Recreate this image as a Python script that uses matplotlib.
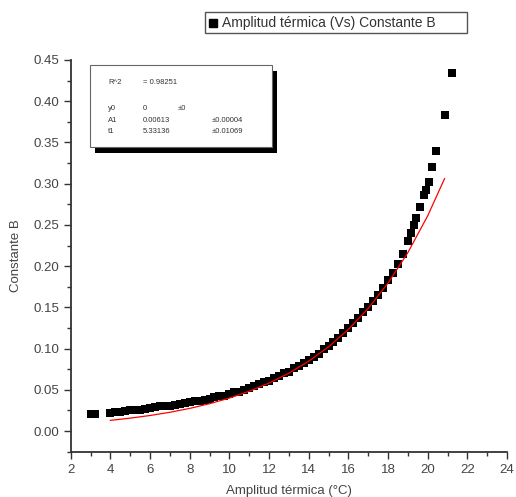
import matplotlib.pyplot as plt
from matplotlib.patches import Rectangle
from matplotlib.lines import Line2D
from matplotlib.ticker import MultipleLocator

plt.rcParams['font.family'] = ['Liberation Sans', 'DejaVu Sans']

# measured points (Amplitud termica vs Constante B)
amp = [3.0, 3.25,
       4.0, 4.25, 4.5, 4.75, 5.0, 5.25, 5.5, 5.75, 6.0, 6.25, 6.5, 6.75,
       7.0, 7.25, 7.5, 7.75, 8.0, 8.25, 8.5, 8.75, 9.0, 9.25, 9.5, 9.75,
       10.0, 10.25, 10.5, 10.75, 11.0, 11.25, 11.5, 11.75, 12.0, 12.25,
       12.5, 12.75, 13.0, 13.25, 13.5, 13.75, 14.0, 14.25, 14.5, 14.75,
       15.0, 15.25, 15.5, 15.75, 16.0, 16.25, 16.5, 16.75, 17.0, 17.25,
       17.5, 17.75, 18.0, 18.25, 18.5, 18.75, 19.0, 19.15, 19.3,
       19.43, 19.63, 19.83, 19.93, 20.05, 20.24, 20.44, 20.86, 21.24]
const_b = [0.021, 0.021,
           0.022, 0.023, 0.023, 0.024, 0.025, 0.025, 0.026, 0.027, 0.028, 0.029, 0.030, 0.030,
           0.031, 0.032, 0.033, 0.034, 0.035, 0.036, 0.037, 0.038, 0.039, 0.041, 0.042, 0.043,
           0.045, 0.047, 0.048, 0.050, 0.052, 0.055, 0.057, 0.059, 0.061, 0.064,
           0.067, 0.070, 0.072, 0.076, 0.079, 0.082, 0.086, 0.090, 0.094, 0.099,
           0.103, 0.108, 0.113, 0.119, 0.125, 0.131, 0.137, 0.144, 0.151, 0.158,
           0.165, 0.174, 0.183, 0.192, 0.203, 0.215, 0.230, 0.240, 0.250,
           0.258, 0.272, 0.286, 0.292, 0.302, 0.320, 0.340, 0.383, 0.434]

# exponential fit curve (red)
fit_x = [4, 5, 6, 7, 8, 9, 10, 11, 12, 13, 14, 15, 16, 17, 18, 19, 20, 20.85]
fit_y = [0.0130, 0.0157, 0.0189, 0.0228, 0.0275, 0.0332, 0.0400, 0.0483, 0.0582,
         0.0702, 0.0847, 0.1022, 0.1233, 0.1487, 0.1794, 0.2164, 0.2610, 0.3061]

fit_rows = [("R^2", "= 0.98251", ""),
            ("", "", ""),
            ("y0", "0", "\u00b10"),
            ("A1", "0.00613", "\u00b10.00004"),
            ("t1", "5.33136", "\u00b10.01069")]

W, H = 516, 497
fig = plt.figure(figsize=(W / 100, H / 100), dpi=100)
ax = fig.add_axes([70.7 / W, 1 - 451.7 / H, (507 - 70.7) / W, (451.7 - 60) / H])

ax.plot(amp, const_b, 's', color='black', markersize=6.2, markeredgewidth=0)
ax.plot(fit_x, fit_y, '-', color='red', linewidth=0.9)

ax.set_xlim(2, 24)
ax.set_ylim(-0.025, 0.45)
ax.xaxis.set_major_locator(MultipleLocator(2))
ax.xaxis.set_minor_locator(MultipleLocator(1))
ax.yaxis.set_major_locator(MultipleLocator(0.05))
ax.yaxis.set_minor_locator(MultipleLocator(0.025))
ax.yaxis.set_major_formatter(plt.FormatStrFormatter('%.2f'))

for s in ['top', 'right']:
    ax.spines[s].set_visible(False)
for s in ['left', 'bottom']:
    ax.spines[s].set_color('#333333')
    ax.spines[s].set_linewidth(1.3)
ax.tick_params(which='major', length=5, width=1, color='#333333',
               labelsize=9.5, labelcolor='#444444')
ax.tick_params(which='minor', length=3, width=1, color='#333333')

ax.set_xlabel('Amplitud térmica (°C)', fontsize=9.5, color='#444444', labelpad=7)
ax.set_ylabel('Constante B', fontsize=9.5, color='#444444', labelpad=8)

# legend box at the top
fig.patches.append(Rectangle((205 / W, 1 - 33 / H), (467 - 205) / W, 21 / H,
                             transform=fig.transFigure, facecolor='white',
                             edgecolor='#555555', linewidth=1))
fig.lines.append(Line2D([213 / W], [1 - 22.5 / H], marker='s', color='black',
                        markersize=5.5, transform=fig.transFigure))
fig.text(222 / W, 1 - 22.5 / H, 'Amplitud térmica (Vs) Constante B',
         fontsize=10, color='#333333', va='center')

# fit parameter box with shadow
fig.patches.append(Rectangle((95 / W, 1 - 152.7 / H), (276.7 - 95) / W, (152.7 - 71) / H,
                             transform=fig.transFigure, facecolor='black',
                             edgecolor='none'))
fig.patches.append(Rectangle((90 / W, 1 - 146.7 / H), (271.7 - 90) / W, (146.7 - 65.5) / H,
                             transform=fig.transFigure, facecolor='white',
                             edgecolor='#666666', linewidth=0.8))
row_y = [82.7, 96, 109, 120.7, 131.5]
col_x = [108, 143, 178]
for yy, row in zip(row_y, fit_rows):
    for xx, txt in zip(col_x, row):
        if txt:
            xpos = 211.7 if (xx == 178 and len(txt) > 3) else xx
            fig.text(xpos / W, 1 - yy / H, txt, fontsize=5.5, color='#333333',
                     va='center')

fig.savefig('out.png', dpi=100)
